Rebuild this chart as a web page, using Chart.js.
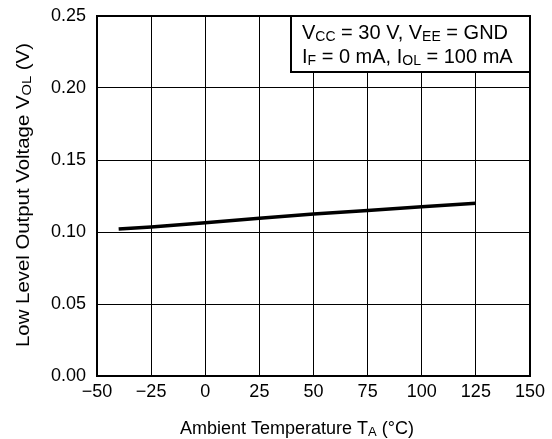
<!DOCTYPE html>
<html>
<head>
<meta charset="utf-8">
<script src="https://cdn.jsdelivr.net/npm/chart.js@4/dist/chart.umd.min.js"></script>
<style>
  html, body { margin:0; padding:0; background:#fff; }
  #wrap { width:552px; height:439px; }
</style>
</head>
<body>
<div id="wrap"><canvas id="c" width="552" height="439"></canvas></div>
<script>
'use strict';

// data
const tempC   = [-40, -25, 0, 25, 50, 75, 100, 125];
const volVals = [0.102, 0.1035, 0.1065, 0.1095, 0.1125, 0.115, 0.1175, 0.120];
const xTicks  = [-50, -25, 0, 25, 50, 75, 100, 125, 150];
const yTicks  = [0, 0.05, 0.10, 0.15, 0.20, 0.25];

const FONT = '"Liberation Sans", Arial, sans-serif';
const TICK = 18;

// rich text with subscripts: runs = [[text, isSub], ...]
function runsWidth(ctx, runs, size, subSize) {
  let w = 0;
  runs.forEach(([t, s]) => { ctx.font = `${s ? subSize : size}px ${FONT}`; w += ctx.measureText(t).width; });
  return w;
}
function drawRuns(ctx, runs, x, y, size, subSize) {
  let cx = x;
  ctx.textBaseline = 'alphabetic'; ctx.textAlign = 'left';
  runs.forEach(([t, s]) => {
    ctx.font = `${s ? subSize : size}px ${FONT}`;
    ctx.fillText(t, cx, s ? y + 2 : y);
    cx += ctx.measureText(t).width;
  });
}

const yTitle = [['Low Level Output Voltage V',0],['OL',1],[' (V)',0]];
const xTitle = [['Ambient Temperature T',0],['A',1],[' (\u00B0C)',0]];
const note1  = [['V',0],['CC',1],[' = 30 V, V',0],['EE',1],[' = GND',0]];
const note2  = [['I',0],['F',1],[' = 0 mA, I',0],['OL',1],[' = 100 mA',0]];

const decor = {
  id: 'decor',
  afterDraw(chart) {
    const ctx = chart.ctx, a = chart.chartArea;
    ctx.save();
    ctx.fillStyle = '#000'; ctx.strokeStyle = '#000';

    // note box in upper right
    const bx = 291, by = a.top, bw = a.right - bx, bh = 56;
    ctx.fillStyle = '#fff';
    ctx.fillRect(bx, by, bw, bh);
    ctx.lineWidth = 2;
    ctx.strokeRect(bx, by, bw, bh);
    ctx.fillStyle = '#000';
    drawRuns(ctx, note1, 302, by + 23, 20, 14);
    drawRuns(ctx, note2, 302, by + 47, 20, 14);

    // frame
    ctx.lineWidth = 2;
    ctx.strokeRect(a.left, a.top, a.right - a.left, a.bottom - a.top);

    // x title
    const xw = runsWidth(ctx, xTitle, 18, 13);
    drawRuns(ctx, xTitle, 297 - xw / 2, 434, 18, 13);

    // y title, stretched along its length like the reference
    const yw = runsWidth(ctx, yTitle, 18, 13);
    ctx.translate(29, 195);
    ctx.rotate(-Math.PI / 2);
    ctx.scale(304 / yw, 1);
    drawRuns(ctx, yTitle, -yw / 2, 0, 18, 13);
    ctx.restore();
  }
};

new Chart(document.getElementById('c'), {
  type: 'line',
  data: {
    datasets: [{
      data: tempC.map((t, i) => ({ x: t, y: volVals[i] })),
      borderColor: '#000', borderWidth: 3.5, pointRadius: 0, tension: 0, fill: false
    }]
  },
  options: {
    responsive: false, animation: false, devicePixelRatio: 1,
    layout: { padding: { top: 16, right: 22, left: 0, bottom: 0 } },
    plugins: { legend: { display: false }, tooltip: { enabled: false } },
    scales: {
      x: {
        type: 'linear', min: -50, max: 150,
        afterBuildTicks: s => { s.ticks = xTicks.map(v => ({ value: v })); },
        afterFit: s => { s.height = 63; s.paddingLeft = 0; s.paddingRight = 0; },
        grid: { color: '#000', lineWidth: 1, drawTicks: false },
        border: { color: '#000', width: 2 },
        ticks: { color: '#000', font: { family: FONT, size: TICK }, padding: 5,
                 maxRotation: 0, callback: v => String(v).replace('-', '\u2212') }
      },
      y: {
        min: 0, max: 0.25,
        afterBuildTicks: s => { s.ticks = yTicks.map(v => ({ value: v })); },
        afterFit: s => { s.width = 97; s.paddingTop = 0; s.paddingBottom = 0; },
        grid: { color: '#000', lineWidth: 1, drawTicks: false },
        border: { color: '#000', width: 2 },
        ticks: { color: '#000', font: { family: FONT, size: TICK }, padding: 11,
                 callback: v => Number(v).toFixed(2) }
      }
    }
  },
  plugins: [decor]
});
</script>
</body>
</html>
